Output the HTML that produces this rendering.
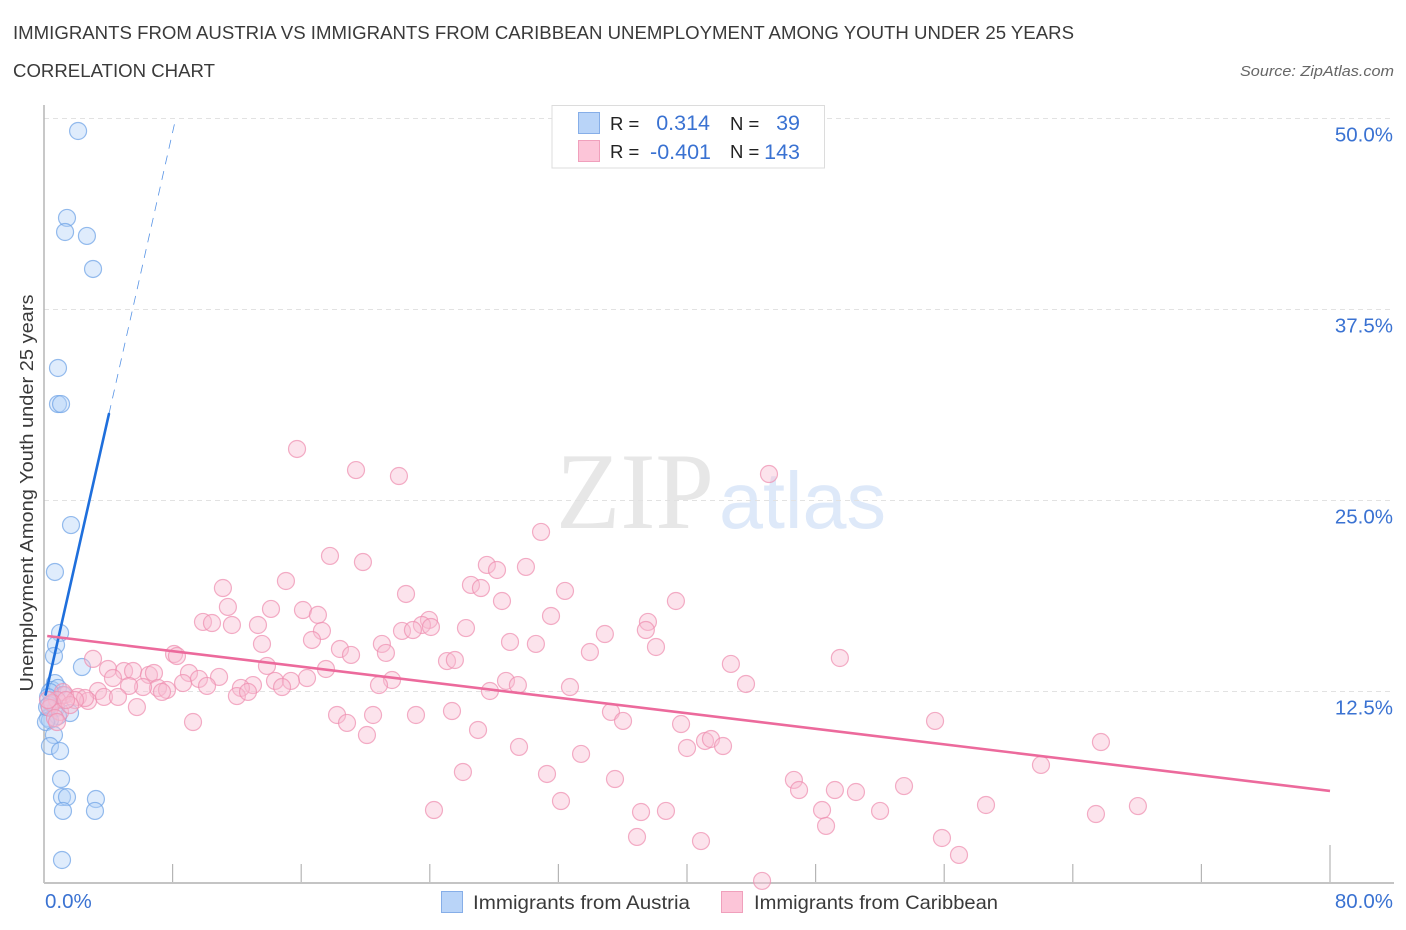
<!DOCTYPE html>
<html lang="en">
<head>
<meta charset="utf-8">
<title>Immigrants from Austria vs Immigrants from Caribbean Unemployment Correlation Chart</title>
<style>
html,body{margin:0;padding:0;background:#fff;width:1406px;height:930px;overflow:hidden}
svg{display:block;font-family:"Liberation Sans",sans-serif}
</style>
</head>
<body>
<svg id="chart" width="1406" height="930" viewBox="0 0 1406 930">
  <text x="13" y="39" font-size="18.5" fill="#3a3a3a" textLength="1061" lengthAdjust="spacingAndGlyphs">IMMIGRANTS FROM AUSTRIA VS IMMIGRANTS FROM CARIBBEAN UNEMPLOYMENT AMONG YOUTH UNDER 25 YEARS</text>
  <text x="13" y="77" font-size="18.5" fill="#3a3a3a" textLength="202" lengthAdjust="spacingAndGlyphs">CORRELATION CHART</text>
  <text x="1394" y="76" font-size="15" font-style="italic" fill="#666" text-anchor="end" textLength="154" lengthAdjust="spacingAndGlyphs">Source: ZipAtlas.com</text>

  <g>
    <text x="556" y="528" font-family="'Liberation Serif',serif" font-size="109" fill="#e7e7e7" textLength="158" lengthAdjust="spacingAndGlyphs">ZIP</text>
    <text x="719" y="528" font-size="80" fill="#deE9f9" textLength="167" lengthAdjust="spacingAndGlyphs">atlas</text>
  </g>

  <g id="grid"></g>
  <g id="xticks"></g>
  <line x1="44" y1="105" x2="44" y2="883" stroke="#b5b5b5" stroke-width="1.5"/>
  <line x1="44" y1="883" x2="1394" y2="883" stroke="#c4c4c4" stroke-width="2"/>
  <g id="ylabels"></g>
  <g id="xlabels"></g>
  <text transform="translate(33,493) rotate(-90)" font-size="18.5" fill="#3a3a3a" text-anchor="middle" textLength="397" lengthAdjust="spacingAndGlyphs">Unemployment Among Youth under 25 years</text>

  <g id="points-austria"></g>
  <g id="points-caribbean"></g>
  <g id="trends"></g>

  <g>
    <rect x="552" y="105.500" width="272.500" height="62.500" fill="#fff" stroke="#dcdcdc" stroke-width="1"/>
    <rect x="578.500" y="112.500" width="21" height="21" fill="#b9d4f8" stroke="#86aee8"/>
    <rect x="578.500" y="140.500" width="21" height="21" fill="#fcc5d8" stroke="#f0a0bc"/>
    <g font-size="18.500" fill="#222">
      <text x="610" y="130">R =</text>
      <text x="730" y="130">N =</text>
      <text x="610" y="158">R =</text>
      <text x="730" y="158">N =</text>
    </g>
    <g font-size="21.500" fill="#3a72d2" text-anchor="end">
      <text x="710" y="130">0.314</text>
      <text x="800" y="130">39</text>
      <text x="711" y="159">-0.401</text>
      <text x="800" y="159">143</text>
    </g>
  </g>

  <g>
    <rect x="441.500" y="891.500" width="21" height="21" fill="#b9d4f8" stroke="#86aee8"/>
    <text x="473" y="909" font-size="19.500" fill="#3a3a3a" textLength="217" lengthAdjust="spacingAndGlyphs">Immigrants from Austria</text>
    <rect x="721.500" y="891.500" width="21" height="21" fill="#fcc5d8" stroke="#f0a0bc"/>
    <text x="754" y="909" font-size="19.500" fill="#3a3a3a" textLength="244" lengthAdjust="spacingAndGlyphs">Immigrants from Caribbean</text>
  </g>
</svg>
<script>
const yTickValues = [12.5, 25, 37.5, 50];
const yTickLabels = ["12.5%", "25.0%", "37.5%", "50.0%"];
const xTickValues = [0, 8, 16, 24, 32, 40, 48, 56, 64, 72, 80];
const xEndValues = [0, 80];
const xEndLabels = ["0.0%", "80.0%"];

const austriaX = [2.12,1.43,1.31,2.67,3.05,0.87,0.87,1.06,1.68,0.68,1.0,0.75,0.62,2.36,0.68,0.5,0.87,1.18,0.37,0.25,0.5,0.75,0.31,1.62,0.25,0.87,0.37,0.12,0.62,0.37,1.0,1.06,1.12,1.43,3.23,1.18,3.17,1.12,0.19];
const austriaY = [49.15,43.46,42.54,42.28,40.12,33.64,31.28,31.28,23.36,20.29,16.3,15.51,14.79,14.07,13.02,12.57,12.7,12.24,12.43,12.1,11.65,11.39,11.58,11.06,10.73,10.86,10.6,10.47,9.62,8.9,8.57,6.74,5.56,5.56,5.43,4.65,4.65,1.44,11.45];

const caribbeanX = [15.74,19.41,22.08,45.10,30.92,17.79,19.84,27.55,28.18,29.98,26.56,27.18,15.05,11.13,22.52,32.41,28.49,11.44,14.12,16.11,17.04,39.31,31.54,23.95,9.89,10.45,11.69,13.31,23.51,24.07,22.27,22.95,26.25,37.57,37.44,34.89,17.29,16.67,21.02,28.99,30.60,13.56,18.41,19.10,21.27,33.96,38.07,8.09,8.27,3.05,25.07,25.56,49.51,42.73,13.87,17.54,3.98,4.98,5.54,6.53,6.84,4.29,9.02,9.64,10.89,8.65,16.36,14.37,21.65,15.36,28.74,29.48,32.72,43.67,20.84,13.00,14.81,7.09,6.16,5.29,10.14,12.25,7.65,7.34,3.36,2.11,2.74,2.55,3.73,4.60,12.00,12.69,27.74,5.78,35.27,18.23,20.47,23.14,25.38,9.27,18.85,36.02,39.63,55.43,27.00,20.09,29.55,40.00,41.12,41.49,42.24,65.75,33.41,26.06,31.29,35.52,62.02,46.65,46.97,49.20,50.51,53.50,32.16,24.26,37.14,38.69,48.40,52.01,58.60,65.44,68.05,48.65,36.89,40.87,55.86,56.92,44.67,1.31,1.18,0.81,0.5,0.37,1.0,1.93,1.62,0.25,0.68,1.37,0.81];
const caribbeanY = [28.34,26.96,26.57,26.70,22.91,21.34,20.94,20.75,20.42,20.62,19.44,19.24,19.70,19.24,18.85,19.05,18.39,18.00,17.87,17.80,17.48,18.39,17.41,17.15,17.02,16.95,16.82,16.82,16.82,16.69,16.43,16.49,16.62,17.02,16.49,16.23,16.43,15.84,15.58,15.71,15.58,15.58,15.25,14.86,14.99,15.05,15.38,14.92,14.79,14.60,14.46,14.53,14.66,14.27,14.14,13.94,13.94,13.81,13.81,13.55,13.68,13.35,13.68,13.29,13.42,13.02,13.35,13.16,13.22,13.16,13.16,12.89,12.76,12.96,12.89,12.89,12.76,12.70,12.76,12.83,12.83,12.70,12.57,12.44,12.50,12.11,11.85,12.04,12.11,12.11,12.17,12.44,12.50,11.45,11.13,10.93,10.93,10.93,11.19,10.47,10.41,10.54,10.34,10.54,9.95,9.62,8.84,8.77,9.23,9.36,8.90,9.16,8.38,7.20,7.07,6.74,7.66,6.68,6.02,6.02,5.89,6.28,5.30,4.71,4.58,4.65,4.71,4.65,5.04,4.45,4.97,3.67,2.95,2.68,2.88,1.77,0.07,12.24,12.43,11.91,11.72,11.39,11.13,11.91,11.58,11.91,10.73,11.91,10.47];

const austriaTrendX = [0.1, 4.04, 8.2];
const austriaTrendY = [12.27, 30.63, 50];
const caribbeanTrendX = [0.2, 80];
const caribbeanTrendY = [16.1, 5.96];

const xScale = v => 44 + v * 16.075;
const yScale = v => 882 - v * 15.28;
const NS = "http://www.w3.org/2000/svg";
function make(tag, parent, attrs, text) {
  const el = document.createElementNS(NS, tag);
  for (const k in attrs) el.setAttribute(k, attrs[k]);
  if (text !== undefined) el.textContent = text;
  parent.appendChild(el);
  return el;
}
const grid = document.getElementById("grid");
const ylabels = document.getElementById("ylabels");
yTickValues.forEach((v, i) => {
  const line = make("line", grid, {x1: 44, x2: 1394, y1: yScale(v) + 0.5, y2: yScale(v) + 0.5, stroke: "#e2e2e2", "stroke-width": 1, "stroke-dasharray": "5 4"});
  
  
  const label = make("text", ylabels, {x: 1393, y: yScale(v) + 23.5, "font-size": 20.5, fill: "#3a72d2", "text-anchor": "end"}, yTickLabels[i]);
  
  
});
const xticks = document.getElementById("xticks");
xTickValues.slice(1).forEach((v, i, arr) => {
  const isLast = i === arr.length - 1;
  const tick = make("line", xticks, {x1: xScale(v), x2: xScale(v), y1: isLast ? 845 : 864, y2: 882, stroke: "#b5b5b5", "stroke-width": 1.2});
  
  
});
const xlabels = document.getElementById("xlabels");
xEndValues.forEach((v, i) => {
  const label = make("text", xlabels, {x: i === 0 ? xScale(v) + 1 : 1393, y: 908, "font-size": 20.5, fill: "#3a72d2", "text-anchor": i === 0 ? "start" : "end"}, xEndLabels[i]);
  
  
});
function drawPoints(groupId, xs, ys, fill, stroke) {
  const group = document.getElementById(groupId);
  xs.forEach((x, i) => {
    const dot = make("circle", group, {cx: xScale(x), cy: yScale(ys[i]), r: 8.5, fill: fill, "fill-opacity": 0.42, stroke: stroke, "stroke-opacity": 0.72, "stroke-width": 1.2});
    
    
  });
}
drawPoints("points-austria", austriaX, austriaY, "#b3d1f8", "#6ea2e6");
drawPoints("points-caribbean", caribbeanX, caribbeanY, "#f9bcd2", "#ee8fb0");
const trends = document.getElementById("trends");
const solidBlue = make("line", trends, {x1: xScale(austriaTrendX[0]), y1: yScale(austriaTrendY[0]), x2: xScale(austriaTrendX[1]), y2: yScale(austriaTrendY[1]), stroke: "#1f6fdc", "stroke-width": 2.6, "stroke-linecap": "round"});


const dashBlue = make("line", trends, {x1: xScale(austriaTrendX[1]), y1: yScale(austriaTrendY[1]), x2: xScale(austriaTrendX[2]), y2: yScale(austriaTrendY[2]), stroke: "#1f6fdc", "stroke-width": 0.8, "stroke-opacity": 0.75, "stroke-dasharray": "9 7"});


const solidPink = make("line", trends, {x1: xScale(caribbeanTrendX[0]), y1: yScale(caribbeanTrendY[0]), x2: xScale(caribbeanTrendX[1]), y2: yScale(caribbeanTrendY[1]), stroke: "#ec6a9c", "stroke-width": 2.6});


</script>
</body>
</html>
